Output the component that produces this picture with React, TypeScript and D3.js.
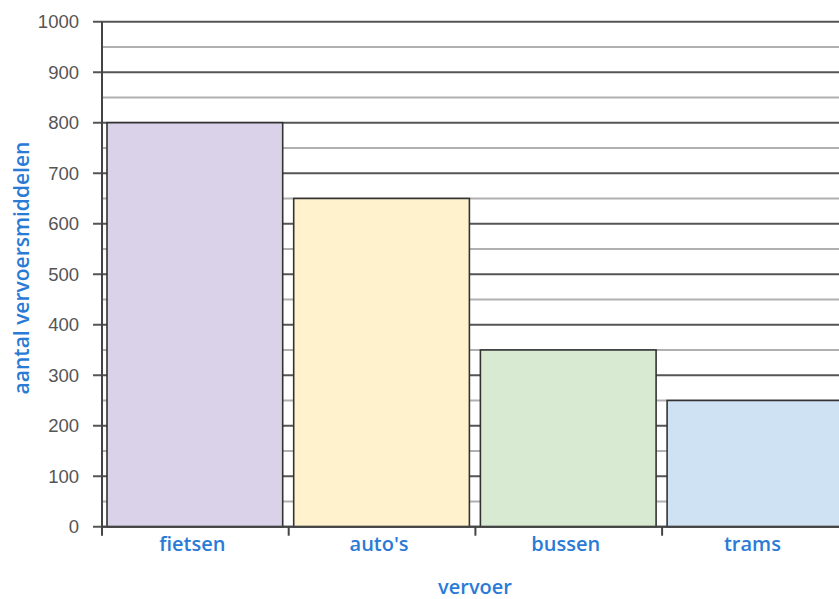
import React from "react";
import * as d3 from "d3";

const categories = ["fietsen", "auto's", "bussen", "trams"];
const values = [800, 650, 350, 250];
const colors = ["#d9d2e9", "#fff2cc", "#d9ead3", "#cfe2f3"];
const yTicks = [0, 100, 200, 300, 400, 500, 600, 700, 800, 900, 1000];
const yMinor = [50, 150, 250, 350, 450, 550, 650, 750, 850, 950];

const W = 839;
const H = 599;
const left = 102;
const top = 21.7;
const bottom = 526.7;
const bandW = 186.7;

export default function App() {
  const x = d3
    .scaleBand<string>()
    .domain(categories)
    .range([left, left + bandW * categories.length])
    .paddingInner(0)
    .paddingOuter(0);
  const y = d3.scaleLinear().domain([0, 1000]).range([bottom, top]);
  const inset = 5;
  const bw = x.bandwidth() - 11;
  const blue = "#2a7bd6";
  const labelFont = "Open Sans, Noto Sans, sans-serif";
  return (
    <svg
      width={W}
      height={H}
      style={{ position: "absolute", left: 0, top: 0 }}
      xmlns="http://www.w3.org/2000/svg"
    >
      <rect x={0} y={0} width={W} height={H} fill="#fff" />
      {yMinor.map((v) => (
        <line key={"m" + v} x1={left} x2={W} y1={y(v)} y2={y(v)} stroke="#b0b0b0" strokeWidth={2} />
      ))}
      {yTicks.map((v) => (
        <line key={"g" + v} x1={left - 9} x2={W} y1={y(v)} y2={y(v)} stroke="#555" strokeWidth={2} />
      ))}
      {categories.map((c, i) => (
        <rect
          key={c}
          x={(x(c) as number) + inset}
          y={y(values[i])}
          width={bw}
          height={y(0) - y(values[i])}
          fill={colors[i]}
          stroke="#333"
          strokeWidth={1.6}
        />
      ))}
      <line x1={left} x2={left} y1={top} y2={bottom + 9} stroke="#444" strokeWidth={2} />
      <line x1={left} x2={W} y1={bottom} y2={bottom} stroke="#444" strokeWidth={2} />
      {categories.map((c) => (
        <line
          key={"t" + c}
          x1={(x(c) as number) + bandW}
          x2={(x(c) as number) + bandW}
          y1={bottom}
          y2={bottom + 9}
          stroke="#444"
          strokeWidth={2}
        />
      ))}
      {yTicks.map((v) => (
        <text
          key={"l" + v}
          x={79}
          y={y(v) + 6.5}
          textAnchor="end"
          fontFamily="Liberation Sans, Arial, sans-serif"
          fontSize={18.5}
          fill="#555"
        >
          {v}
        </text>
      ))}
      {categories.map((c) => (
        <text
          key={"c" + c}
          x={(x(c) as number) + bandW / 2 - 3}
          y={551}
          textAnchor="middle"
          fontFamily={labelFont}
          fontWeight={600}
          fontSize={20}
          fill={blue}
        >
          {c}
        </text>
      ))}
      <text
        x={475}
        y={594}
        textAnchor="middle"
        fontFamily={labelFont}
        fontWeight={600}
        fontSize={20}
        fill={blue}
      >
        vervoer
      </text>
      <text
        transform={`translate(29, ${268}) rotate(-90)`}
        textAnchor="middle"
        fontFamily={labelFont}
        fontWeight={600}
        fontSize={21}
        fill={blue}
      >
        aantal vervoersmiddelen
      </text>
    </svg>
  );
}
